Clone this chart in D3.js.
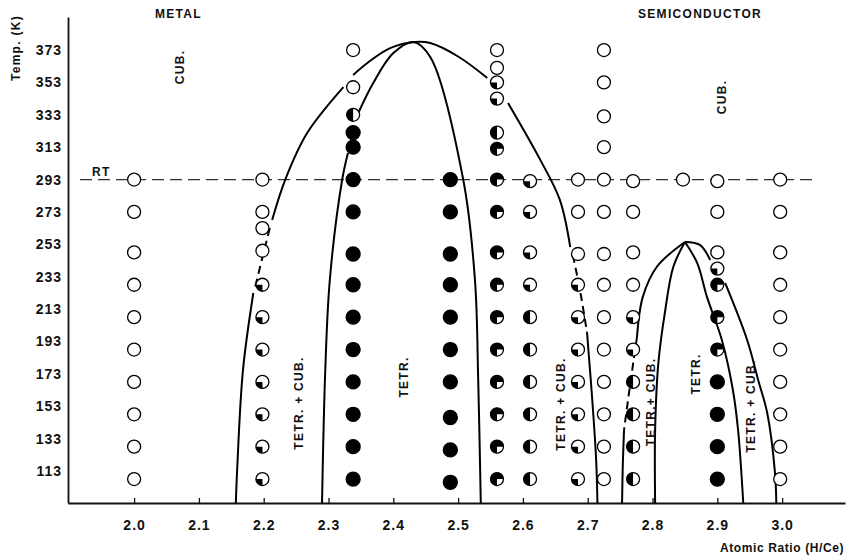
<!DOCTYPE html>
<html>
<head>
<meta charset="utf-8">
<script src="https://cdn.jsdelivr.net/npm/d3@7/dist/d3.min.js"></script>
<style>
  html, body { margin: 0; padding: 0; background: #fff; overflow: hidden; }
  svg text { font-family: "Liberation Sans", Arial, sans-serif; font-weight: bold; fill: #111; }
</style>
</head>
<body>
<svg id="chart" width="856" height="559"></svg>
<script>
// tick labels
const xTicks = [2.0, 2.1, 2.2, 2.3, 2.4, 2.5, 2.6, 2.7, 2.8, 2.9, 3.0];
const yTicks = [373, 353, 333, 313, 293, 273, 253, 233, 213, 193, 173, 153, 133, 113];

// measured points per composition: [temperature, marker]
// o = cubic, f = tetragonal, q / h / t = mixed (quarter / half / three-quarter tetr.)
const pts200 = [[293,'o'],[273,'o'],[248,'o'],[228,'o'],[208,'o'],[188,'o'],[168,'o'],[148,'o'],[128,'o'],[108,'o']];
const pts220 = [[293,'o'],[273,'o'],[263,'o'],[249,'o'],[228,'q'],[208,'q'],[188,'q'],[168,'q'],[148,'q'],[128,'q'],[108,'q']];
const pts234 = [[373,'o'],[350,'o'],[333,'h'],[322,'f'],[313,'f'],[293,'f'],[273,'f'],[247,'f'],[228,'f'],[208,'f'],[188,'f'],[168,'f'],[148,'f'],[128,'f'],[108,'f']];
const pts249 = [[293,'f'],[273,'f'],[247,'f'],[228,'f'],[208,'f'],[188,'f'],[168,'f'],[146,'f'],[126,'f'],[106,'f']];
const pts256 = [[373,'o'],[362,'o'],[353,'q'],[343,'q'],[322,'h'],[312,'t'],[293,'t'],[273,'t'],[248,'t'],[228,'t'],[208,'t'],[188,'t'],[168,'t'],[148,'t'],[128,'t'],[108,'t']];
const pts261 = [[292,'q'],[273,'q'],[248,'q'],[228,'q'],[208,'h'],[188,'h'],[168,'h'],[148,'h'],[128,'h'],[108,'h']];
const pts268 = [[293,'o'],[273,'o'],[247,'o'],[228,'q'],[208,'q'],[188,'q'],[168,'q'],[148,'q'],[128,'q'],[108,'q']];
const pts272 = [[373,'o'],[353,'o'],[332,'o'],[313,'o'],[293,'o'],[273,'o'],[247,'o'],[228,'o'],[208,'o'],[188,'o'],[168,'o'],[148,'o'],[128,'o'],[108,'o']];
const pts277 = [[292,'o'],[273,'o'],[248,'o'],[228,'o'],[208,'q'],[188,'q'],[168,'h'],[148,'h'],[128,'h'],[108,'h']];
const pts285 = [[293,'o']];
const pts290 = [[292,'o'],[273,'o'],[248,'o'],[238,'q'],[228,'t'],[208,'t'],[188,'t'],[168,'f'],[148,'f'],[128,'f'],[108,'f']];
const pts300 = [[293,'o'],[273,'o'],[248,'o'],[228,'o'],[208,'o'],[188,'o'],[168,'o'],[148,'o'],[128,'o'],[108,'o']];

const columns = [
  [2.0, pts200], [2.198, pts220], [2.338, pts234], [2.488, pts249], [2.56, pts256], [2.611, pts261],
  [2.685, pts268], [2.725, pts272], [2.77, pts277], [2.847, pts285], [2.9, pts290], [2.997, pts300]
];

// phase boundaries: [H/Ce, T]
const outerLow = [[2.157,93.2],[2.159,113.6],[2.168,175.3],[2.184,222.9]];
const outerLowDash = [[2.187,227],[2.2,248],[2.21,264]];
const outerTopA = [[2.213,268],[2.233,292.7],[2.267,321.7],[2.323,350.1]];
const outerTopB = [[2.338,357.6],[2.36,365],[2.395,374.2],[2.434,378],[2.457,377.3],[2.5,369],[2.545,355.7]];
const outerRightA = [[2.577,340.3],[2.627,305],[2.657,280.4],[2.673,251.3]];
const outerRightDash = [[2.677,246.4],[2.688,224.8],[2.699,198.2]];
const outerRightB = [[2.699,198.2],[2.707,156.8],[2.713,119.8],[2.715,93.2]];
const innerLeft = [[2.29,93.2],[2.295,175.3],[2.302,230.9],[2.321,292.7],[2.33,309.4]];
const innerTop = [[2.346,334.1],[2.369,352.6],[2.4,371.1],[2.431,378],[2.457,368.7],[2.508,292.7],[2.526,230.9],[2.531,169.2],[2.535,93.2]];
const smallOuterLeft = [[2.85,254.4],[2.807,239.3],[2.785,220.5],[2.776,195.7]];
const smallOuterLeftDash = [[2.776,195.7],[2.765,165],[2.756,138.3]];
const smallOuterLeftLow = [[2.756,138.3],[2.754,115],[2.753,93.2]];
const smallInnerLeft = [[2.85,254.4],[2.832,239],[2.819,210.6],[2.809,179.7],[2.804,138.3],[2.804,93.2]];
const smallInnerRight = [[2.85,254.4],[2.869,241.4],[2.884,220.5],[2.907,193.9],[2.924,163],[2.932,138.3],[2.94,93.2]];
const smallOuterRightA = [[2.85,254.4],[2.873,252.6],[2.889,243.3]];
const smallOuterRightB = [[2.912,229.1],[2.946,193.9],[2.963,169.2],[2.977,148.8],[2.989,111.7],[2.991,93.2]];

const solidCurves = [outerLow, outerTopA, outerTopB, outerRightA, outerRightB, innerLeft, innerTop,
  smallOuterLeft, smallOuterLeftLow, smallInnerLeft, smallInnerRight, smallOuterRightA, smallOuterRightB];
const dashedCurves = [outerLowDash, outerRightDash, smallOuterLeftDash];

const roomTemp = 293;

const svg = d3.select('#chart');

const x = d3.scaleLinear().domain([1.898, 3.097]).range([68, 845]);
const y = d3.scaleLinear().domain([93.2, 393.4]).range([503, 17]);

// axes
const xAxis = svg.append('g')
  .attr('transform', 'translate(0,' + y.range()[0] + ')')
  .call(d3.axisBottom(x).tickValues(xTicks).tickFormat(d3.format('.1f')).tickSizeInner(-5).tickSizeOuter(0).tickPadding(17));
xAxis.select('.domain').attr('stroke', '#111').attr('stroke-width', 1.8);
xAxis.selectAll('.tick line').attr('stroke', '#111').attr('stroke-width', 1.3);
xAxis.selectAll('.tick text').attr('font-size', '14px').attr('letter-spacing', '1px').attr('font-family', null).attr('fill', '#111');

const yAxis = svg.append('g')
  .attr('transform', 'translate(' + x.range()[0] + ',0)')
  .call(d3.axisLeft(y).tickValues(yTicks).tickSize(0).tickPadding(6));
yAxis.select('.domain').attr('stroke', '#111').attr('stroke-width', 1.8);
yAxis.selectAll('.tick text').attr('font-size', '14px').attr('letter-spacing', '1px').attr('font-family', null).attr('fill', '#111');

// room temperature line
svg.append('line')
  .attr('x1', 80).attr('x2', 812)
  .attr('y1', y(roomTemp)).attr('y2', y(roomTemp))
  .attr('stroke', '#333').attr('stroke-width', 1.2)
  .attr('stroke-dasharray', '12,6');

// boundaries
const line = d3.line().x(d => x(d[0])).y(d => y(d[1])).curve(d3.curveCatmullRom.alpha(0.5));

svg.append('g').selectAll('path').data(solidCurves).join('path')
  .attr('d', line).attr('fill', 'none').attr('stroke', '#000').attr('stroke-width', 2);

svg.append('g').selectAll('path').data(dashedCurves).join('path')
  .attr('d', line).attr('fill', 'none').attr('stroke', '#000').attr('stroke-width', 2)
  .attr('stroke-dasharray', '8,5');

// markers
const R = 6.5;
const wedge = {
  q: [Math.PI, 1.5 * Math.PI],
  h: [Math.PI, 2 * Math.PI],
  t: [Math.PI, 2.5 * Math.PI]
};
const arc = d3.arc().innerRadius(0).outerRadius(R);

const markers = columns.flatMap(([r, list]) => list.map(([t, kind]) => ({ r, t, kind })));

const mg = svg.append('g').selectAll('g').data(markers).join('g')
  .attr('transform', d => 'translate(' + x(d.r) + ',' + y(d.t) + ')');

mg.append('circle')
  .attr('r', d => d.kind === 'f' ? R + 0.5 : R)
  .attr('fill', d => d.kind === 'f' ? '#000' : '#fff')
  .attr('stroke', '#000').attr('stroke-width', 1.3);

mg.filter(d => wedge[d.kind])
  .append('path')
  .attr('d', d => arc({ startAngle: wedge[d.kind][0], endAngle: wedge[d.kind][1] }))
  .attr('fill', '#000');

// labels
function label(txt, px, py, rot, spacing) {
  const t = svg.append('text')
    .attr('font-size', '12px')
    .attr('letter-spacing', (spacing == null ? 1.3 : spacing) + 'px')
    .text(txt);
  if (rot) {
    t.attr('text-anchor', 'middle').attr('transform', 'translate(' + px + ',' + py + ') rotate(-90)');
  } else {
    t.attr('x', px).attr('y', py);
  }
  return t;
}

label('Temp. (K)', 20, 48, true);
label('METAL', 155, 18);
label('SEMICONDUCTOR', 638, 18);
label('RT', 92, 176);
label('CUB.', 184, 67, true);
label('CUB.', 726, 97, true);
label('TETR. + CUB.', 303, 403, true);
label('TETR.', 408, 377, true);
label('TETR. + CUB.', 565, 404, true);
label('TETR.+ CUB.', 655, 402, true);
label('TETR.', 700, 374, true);
label('TETR. + CUB.', 755, 406, true);
label('Atomic Ratio (H/Ce)', 720, 552, false, 0.6);
</script>
</body>
</html>
